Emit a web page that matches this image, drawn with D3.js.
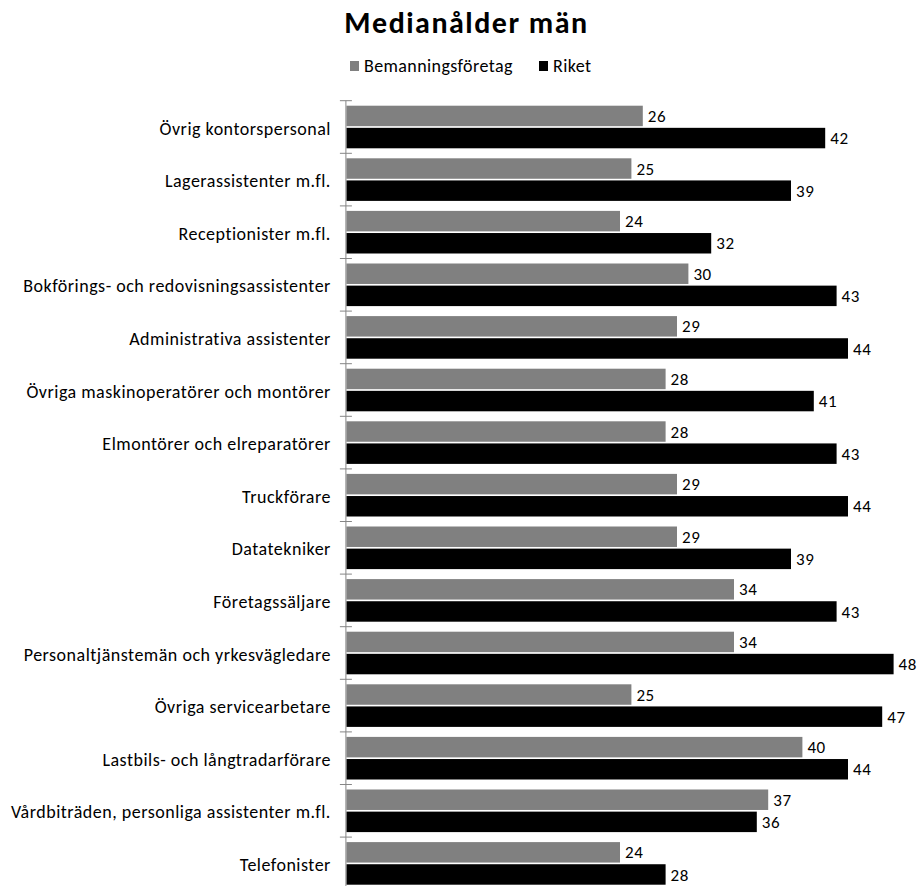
<!DOCTYPE html>
<html>
<head>
<meta charset="utf-8">
<script src="https://cdnjs.cloudflare.com/ajax/libs/d3/7.8.5/d3.min.js"></script>
<style>
  html, body { margin: 0; padding: 0; background: #ffffff; }
  svg { display: block; }
  text { font-family: Carlito, Lato, "Open Sans", sans-serif; fill: #000; }
</style>
</head>
<body>
<svg id="chart" width="924" height="886"></svg>
<script>
const categories = [
  "Övrig kontorspersonal",
  "Lagerassistenter m.fl.",
  "Receptionister m.fl.",
  "Bokförings- och redovisningsassistenter",
  "Administrativa assistenter",
  "Övriga maskinoperatörer och montörer",
  "Elmontörer och elreparatörer",
  "Truckförare",
  "Datatekniker",
  "Företagssäljare",
  "Personaltjänstemän och yrkesvägledare",
  "Övriga servicearbetare",
  "Lastbils- och långtradarförare",
  "Vårdbiträden, personliga assistenter m.fl.",
  "Telefonister"
];
const seriesNames = ["Bemanningsföretag", "Riket"];
const bemanning = [26, 25, 24, 30, 29, 28, 28, 29, 29, 34, 34, 25, 40, 37, 24];
const riket     = [42, 39, 32, 43, 44, 41, 43, 44, 39, 43, 48, 47, 44, 36, 28];
const seriesColors = ["#808080", "#000000"];
const titleText = "Medianålder män";

const svg = d3.select("#chart");

const x = d3.scaleLinear().domain([0, 50]).range([346.4, 916.4]);
const y = d3.scaleBand().domain(categories).range([100.7, 100.7 + 15 * 52.6]).padding(0);
const ySub = d3.scaleBand().domain(seriesNames).range([5, y.bandwidth() - 5]).paddingInner(0.075);

const rows = categories.map((c, i) => ({ cat: c, values: [bemanning[i], riket[i]] }));

// Title
svg.append("text")
  .attr("x", 466.5).attr("y", 32.5)
  .attr("text-anchor", "middle")
  .style("font-size", "30px").style("font-weight", "bold")
  .style("letter-spacing", "1.5px")
  .text(titleText);

// Legend
const legendPos = [350, 539];
seriesNames.forEach((s, i) => {
  const g = svg.append("g").attr("transform", `translate(${legendPos[i]},0)`);
  g.append("rect").attr("x", 0).attr("y", 61).attr("width", 9).attr("height", 10).attr("fill", seriesColors[i]);
  g.append("text").attr("x", 14).attr("y", 72).style("font-size", "18px").style("letter-spacing", "0.4px").text(s);
});

// Bars
const groups = svg.append("g").selectAll("g.row").data(rows).join("g")
  .attr("class", "row")
  .attr("transform", d => `translate(0,${y(d.cat)})`);

groups.selectAll("rect").data(d => d.values.map((v, j) => ({ v, s: seriesNames[j], j })))
  .join("rect")
  .attr("x", x(0))
  .attr("y", d => ySub(d.s))
  .attr("width", d => x(d.v) - x(0))
  .attr("height", ySub.bandwidth())
  .attr("fill", d => seriesColors[d.j]);

groups.selectAll("text.val").data(d => d.values.map((v, j) => ({ v, s: seriesNames[j], j })))
  .join("text")
  .attr("class", "val")
  .attr("x", d => x(d.v) + 5)
  .attr("y", d => ySub(d.s) + ySub.bandwidth() / 2)
  .attr("dy", "0.36em")
  .style("font-size", "17px")
  .style("letter-spacing", "0.6px")
  .text(d => d.v);

// Axis
const axis = d3.axisLeft(y).tickSize(0).tickPadding(15);
const axG = svg.append("g").attr("transform", `translate(${x(0) - 0.5},0)`).call(axis);
axG.select(".domain").attr("stroke", "#868686").attr("d", `M0,${y.range()[0]}V${y.range()[1]}`);
axG.selectAll(".tick text")
  .style("font-size", "18px")
  .style("letter-spacing", "0.5px")
  .style("font-family", "Carlito, Lato, 'Open Sans', sans-serif")
  .attr("fill", "#000")
  .attr("dy", "0.42em");

// Cross tick marks at band boundaries
const boundaries = categories.map(c => y(c)).concat([y.range()[1]]);
axG.selectAll("line.bound").data(boundaries).join("line")
  .attr("class", "bound")
  .attr("x1", -6).attr("x2", 6)
  .attr("y1", d => d).attr("y2", d => d)
  .attr("stroke", "#868686").attr("stroke-width", 1);
</script>
</body>
</html>
